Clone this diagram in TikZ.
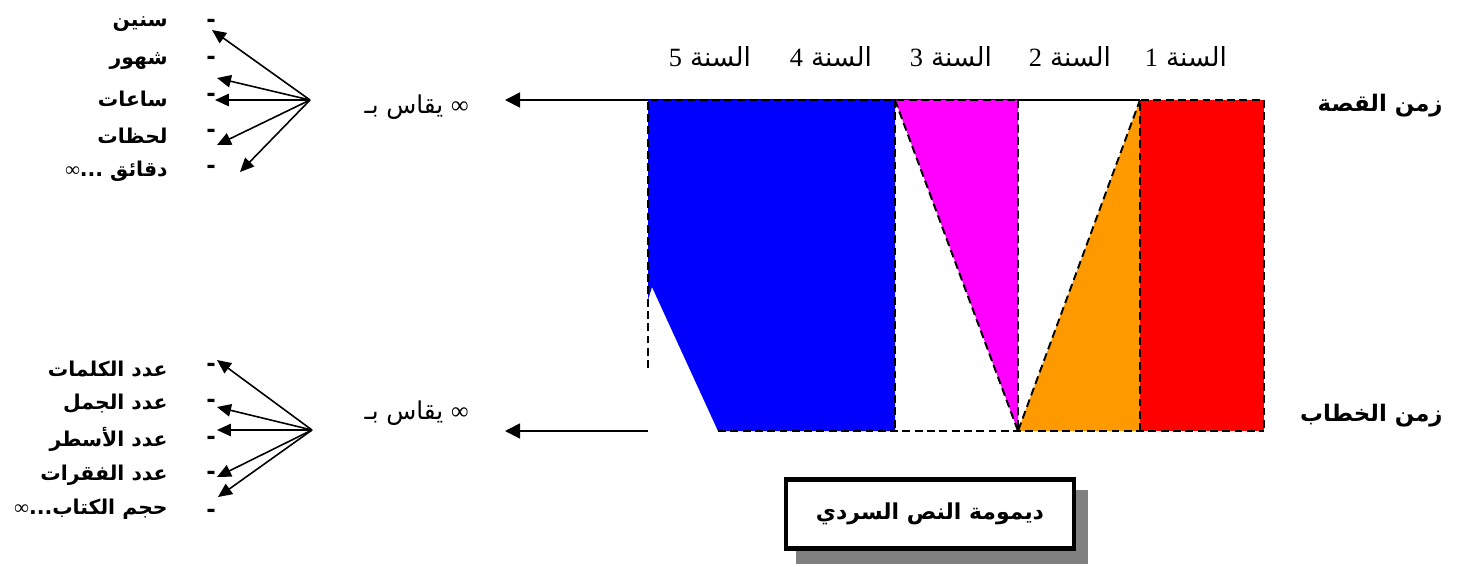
\documentclass[tikz,border=0pt]{standalone}
\usepackage{fontspec}
\usetikzlibrary{arrows.meta}
\TeXXeTstate=1
\newfontfamily\arabicfont[Script=Arabic]{DejaVu Sans}
\newfontfamily\digitfont{Liberation Serif}
\definecolor{figblue}{HTML}{0000FF}
\definecolor{figmagenta}{HTML}{FF00FF}
\definecolor{figorange}{HTML}{FF9900}
\definecolor{figred}{HTML}{FF0000}
\definecolor{figshadow}{HTML}{808080}

\begin{document}
\begin{tikzpicture}[x=0.02cm, y=-0.02cm,
  boldlabel/.style={font={\arabicfont\bfseries\fontsize{13}{15}\selectfont}, inner sep=0pt},
  unitlabel/.style={font={\arabicfont\bfseries\fontsize{11.6}{14}\selectfont}, inner sep=0pt, anchor=east},
  yearlabel/.style={font={\fontsize{15}{18}\selectfont}, inner sep=0pt},
  measure/.style={font={\arabicfont\fontsize{14}{17}\selectfont}, inner sep=0pt},
  timeaxis/.style={line width=1pt, -{Triangle[length=0.3cm, width=0.3cm]}},
  fan/.style={line width=0.9pt, -{Triangle[length=0.28cm, width=0.25cm]}},
  outline/.style={line width=1.1pt, dash pattern=on 4.5pt off 2.5pt},
]
\useasboundingbox (0,0) rectangle (1461,566);

% time axes: story time on top, discourse time below
\coordinate (qend) at (1140,100);
\coordinate (qtip) at (505,100);
\coordinate (kend) at (648,431);
\coordinate (ktip) at (505,431);
\draw[timeaxis] (qend) -- (qtip);
\draw[timeaxis] (kend) -- (ktip);

% the five years as coloured strips between the two axes
\fill[figblue] (648,100) -- (895,100) -- (895,431) -- (718,431) -- (652,287)
  -- (648,300) -- cycle;
\fill[figmagenta] (895,100) -- (1018,100) -- (1018,431) -- cycle;
\fill[figorange] (1018,431) -- (1140,100) -- (1140,431) -- cycle;
\fill[figred] (1140,100) rectangle (1264,431);
\draw[outline] (648,368) -- (648,100) -- (1018,100);
\draw[outline] (895,100) -- (895,431);
\draw[outline] (895,100) -- (1018,431);
\draw[outline] (1018,100) -- (1018,431) -- (1140,100);
\draw[outline] (718,431) -- (1264,431);
\draw[outline] (1140,431) -- (1140,100) -- (1264,100) -- (1264,431);

\node[yearlabel] (y1) at (1186,57) {\beginR{\arabicfont السنة} {\digitfont 1}\endR};
\node[yearlabel] (y2) at (1070,57) {\beginR{\arabicfont السنة} {\digitfont 2}\endR};
\node[yearlabel] (y3) at (951,57) {\beginR{\arabicfont السنة} {\digitfont 3}\endR};
\node[yearlabel] (y4) at (831,57) {\beginR{\arabicfont السنة} {\digitfont 4}\endR};
\node[yearlabel] (y5) at (710,57) {\beginR{\arabicfont السنة} {\digitfont 5}\endR};

\node[boldlabel, anchor=east] (story) at (1443,106) {\beginR زمن القصة\endR};
\node[boldlabel, anchor=east] (discourse) at (1443,416) {\beginR زمن الخطاب\endR};
\node[measure, anchor=east] (qmeasure) at (469,107) {\beginR{\digitfont ∞} يقاس بـ\endR};
\node[measure, anchor=east] (kmeasure) at (469,413) {\beginR{\digitfont ∞} يقاس بـ\endR};

% units of story time
\node[unitlabel] (q1) at (168,24) {\beginR سنين\endR};
\node[unitlabel] (q2) at (168,61) {\beginR شهور\endR};
\node[unitlabel] (q3) at (168,99) {\beginR ساعات\endR};
\node[unitlabel] (q4) at (168,136) {\beginR لحظات\endR};
\node[unitlabel] (q5) at (168,171) {\beginR دقائق ...{\digitfont ∞}\endR};
\foreach \i/\y in {1/23,2/60,3/97,4/133,5/169}
  \node[boldlabel] (qd\i) at (211,\y) {-};
\coordinate (qsrc) at (310,100);
\coordinate (qt1) at (212,30);
\coordinate (qt2) at (217,78);
\coordinate (qt3) at (215,100);
\coordinate (qt4) at (217,145);
\coordinate (qt5) at (240,172);
\foreach \i in {1,...,5}
  \draw[fan] (qsrc) -- (qt\i);

% units of discourse time
\node[unitlabel] (k1) at (168,369) {\beginR عدد الكلمات\endR};
\node[unitlabel] (k2) at (168,404) {\beginR عدد الجمل\endR};
\node[unitlabel] (k3) at (168,439) {\beginR عدد الأسطر\endR};
\node[unitlabel] (k4) at (168,475) {\beginR عدد الفقرات\endR};
\node[unitlabel] (k5) at (168,509) {\beginR حجم الكتاب...{\digitfont ∞}\endR};
\foreach \i/\y in {1/367,2/403,3/440,4/475,5/513}
  \node[boldlabel] (kd\i) at (211,\y) {-};
\coordinate (ksrc) at (312,430);
\coordinate (kt1) at (217,360);
\coordinate (kt2) at (217,407);
\coordinate (kt3) at (217,430);
\coordinate (kt4) at (217,477);
\coordinate (kt5) at (218,497);
\foreach \i in {1,...,5}
  \draw[fan] (ksrc) -- (kt\i);

% title box with its shadow
\fill[figshadow] (796,490) rectangle (1088,564);
\node[draw, line width=2.4pt, fill=white, minimum width=5.75cm, minimum height=1.38cm,
  font={\arabicfont\bfseries\fontsize{12.5}{15}\selectfont}] (title) at (930,514)
  {\beginR ديمومة النص السردي\endR};
\end{tikzpicture}
\end{document}
